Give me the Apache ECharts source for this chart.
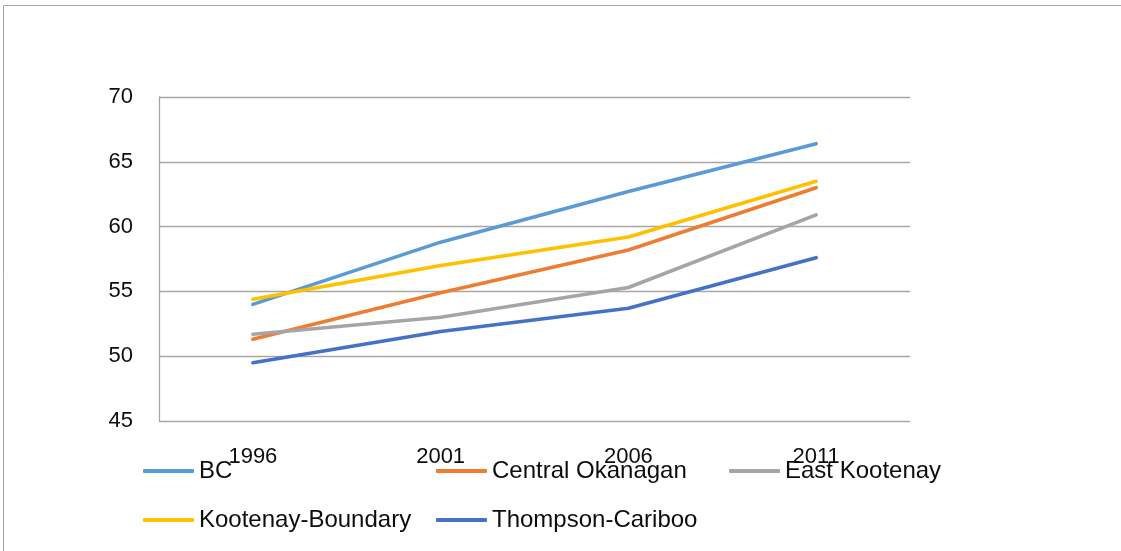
<!DOCTYPE html>
<html>
<head>
<meta charset="utf-8">
<script src="https://cdn.jsdelivr.net/npm/echarts@6/dist/echarts.min.js"></script>
<style>
  html, body { margin: 0; padding: 0; background: #ffffff; }
  #chart { width: 1121px; height: 551px; }
</style>
</head>
<body>
<div id="chart"></div>
<script>
// Census years
const years = ['1996', '2001', '2006', '2011'];

// Values per region, one per census year
const bc = [54.0, 58.8, 62.7, 66.4];
const centralOkanagan = [51.3, 54.9, 58.2, 63.0];
const eastKootenay = [51.7, 53.0, 55.3, 60.9];
const kootenayBoundary = [54.4, 57.0, 59.2, 63.5];
const thompsonCariboo = [49.5, 51.9, 53.7, 57.6];

const seriesNames = ['BC', 'Central Okanagan', 'East Kootenay', 'Kootenay-Boundary', 'Thompson-Cariboo'];
const seriesValues = [bc, centralOkanagan, eastKootenay, kootenayBoundary, thompsonCariboo];
const seriesColors = ['#5B9BD5', '#ED7D31', '#A5A5A5', '#FFC000', '#4472C4'];

const FONT = '"Liberation Sans", Arial, sans-serif';

// Legend entries sit in a fixed grid of columns, two rows
const legendSlots = [
  { left: 138, top: 454 }, { left: 431, top: 454 }, { left: 724, top: 454 },
  { left: 138, top: 503 }, { left: 431, top: 503 }
];

const chart = echarts.init(document.getElementById('chart'), null, { renderer: 'canvas' });

chart.setOption({
  animation: false,
  backgroundColor: '#ffffff',
  graphic: [{
    type: 'rect',
    shape: { x: 3.5, y: 5.5, width: 1300, height: 700 },
    style: { fill: 'none', stroke: '#a6a6a6', lineWidth: 1 },
    silent: true,
    z: -10
  }],
  grid: { left: 159, right: 211, top: 97, bottom: 130, containLabel: false },
  legend: seriesNames.map((name, i) => ({
    data: [name],
    left: legendSlots[i].left,
    top: legendSlots[i].top,
    orient: 'horizontal',
    itemWidth: 51,
    itemHeight: 4,
    icon: 'roundRect',
    textStyle: { fontFamily: FONT, fontSize: 24, color: '#0d0d0d' }
  })),
  xAxis: {
    type: 'category',
    data: years,
    boundaryGap: true,
    axisLine: { show: false },
    axisTick: { show: false },
    axisLabel: { margin: 25, fontFamily: FONT, fontSize: 22, color: '#0d0d0d' },
    splitLine: { show: false }
  },
  yAxis: {
    type: 'value',
    min: 45,
    max: 70,
    interval: 5,
    axisLine: { show: true, lineStyle: { color: '#a6a6a6', width: 1.3 } },
    axisTick: { show: false },
    axisLabel: { margin: 26, fontFamily: FONT, fontSize: 22, color: '#0d0d0d' },
    splitLine: { show: true, lineStyle: { color: '#a6a6a6', width: 1.3 } }
  },
  series: seriesNames.map((name, i) => ({
    name: name,
    type: 'line',
    data: seriesValues[i],
    showSymbol: false,
    symbol: 'none',
    color: seriesColors[i],
    lineStyle: { width: 3.6, color: seriesColors[i], cap: 'round', join: 'round' },
    z: 2 + i
  }))
});
</script>
</body>
</html>
